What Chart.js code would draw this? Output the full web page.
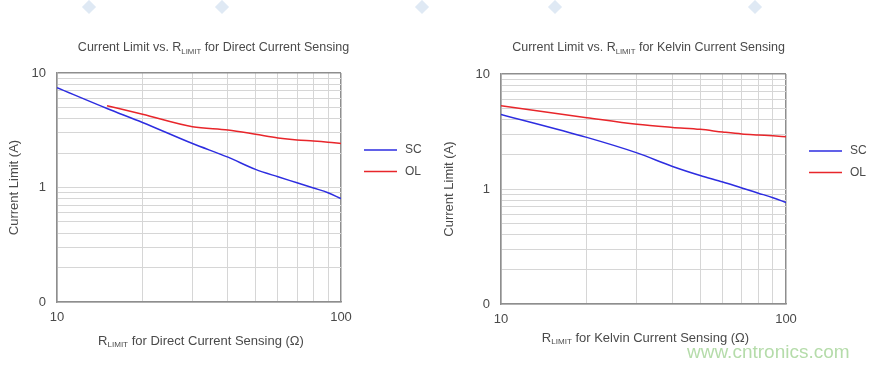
<!DOCTYPE html>
<html><head><meta charset="utf-8">
<script src="https://cdn.jsdelivr.net/npm/chart.js@4.4.1/dist/chart.umd.min.js"></script>
<style>
html,body{margin:0;padding:0;background:#fff;width:870px;height:369px;overflow:hidden;position:relative;font-family:"Liberation Sans",Arial,sans-serif}
.box{position:absolute;top:0;width:435px;height:369px}
#b1{left:0}#b2{left:435px}
.dia{position:absolute;top:2px;width:10px;height:10px;background:#dfe9f4;transform:rotate(45deg)}
#wm{position:absolute;left:687px;top:341px;font-size:19px;color:#b5dcaa;z-index:5;white-space:nowrap}
</style></head>
<body>
<div class="dia" style="left:84px"></div>
<div class="dia" style="left:217px"></div>
<div class="dia" style="left:417px"></div>
<div class="dia" style="left:550px"></div>
<div class="dia" style="left:750px"></div>
<div class="box" id="b1"><canvas id="c1" width="435" height="369"></canvas></div>
<div class="box" id="b2"><canvas id="c2" width="435" height="369"></canvas></div>
<div id="wm">www.cntronics.com</div>
<script>
// ---- data ----
const directScR  = [10, 15, 20, 30, 40, 50, 60, 70, 80, 90, 100];
const directScI  = [7.45, 4.9, 3.70, 2.42, 1.84, 1.44, 1.24, 1.10, 0.99, 0.90, 0.80];
const directOlR  = [15, 20, 30, 40, 50, 60, 70, 80, 90, 100];
const directOlI  = [5.17, 4.37, 3.40, 3.18, 2.92, 2.71, 2.60, 2.55, 2.49, 2.42];
const kelvinScR  = [10, 20, 30, 40, 50, 60, 70, 80, 90, 100];
const kelvinScI  = [4.45, 2.81, 2.06, 1.57, 1.31, 1.15, 1.02, 0.92, 0.84, 0.764];
const kelvinOlR  = [10, 20, 30, 40, 50, 60, 70, 80, 90, 100];
const kelvinOlI  = [5.30, 4.17, 3.65, 3.43, 3.30, 3.13, 3.01, 2.95, 2.90, 2.85];
const seriesNames = ['SC', 'OL'];
const xGridValues = [10, 20, 30, 40, 50, 60, 70, 80, 90, 100];
const yGridValues = [0.1, 0.2, 0.3, 0.4, 0.5, 0.6, 0.7, 0.8, 0.9, 1, 2, 3, 4, 5, 6, 7, 8, 9, 10];
const yTickLabels = {'0.1': '0', '1': '1', '10': '10'};
const xTickLabels = {'10': '10', '100': '100'};
const titleDirect = ['Current Limit vs. R', 'LIMIT', ' for Direct Current Sensing'];
const titleKelvin = ['Current Limit vs. R', 'LIMIT', ' for Kelvin Current Sensing'];
const xTitleDirect = ['R', 'LIMIT', ' for Direct Current Sensing (\u03A9)'];
const xTitleKelvin = ['R', 'LIMIT', ' for Kelvin Current Sensing (\u03A9)'];
const yTitle = 'Current Limit (A)';

const FONT = '"Liberation Sans", Arial, sans-serif';
const TXT = '#4a4a4a';
const GRID = '#d6d6d6';
const BORDER = '#8e8e8e';
const BLUE = '#2d2de0';
const RED = '#e8262b';

function pts(xs, ys) { return xs.map((x, i) => ({x: x, y: ys[i]})); }
function lookup(map, v) {
  for (const k in map) { if (Math.abs(parseFloat(k) - v) < 1e-6 * Math.max(1, v)) return map[k]; }
  return '';
}
function richText(ctx, parts, cx, cy, size) {
  const sub = size * 0.62;
  let w = 0;
  parts.forEach((p, i) => { ctx.font = (i === 1 ? sub : size) + 'px ' + FONT; w += ctx.measureText(p).width; });
  let x = cx - w / 2;
  ctx.textBaseline = 'middle'; ctx.textAlign = 'left'; ctx.fillStyle = TXT;
  parts.forEach((p, i) => {
    const s = i === 1 ? sub : size;
    ctx.font = s + 'px ' + FONT;
    ctx.fillText(p, x, i === 1 ? cy + size * 0.28 : cy);
    x += ctx.measureText(p).width;
  });
}

function makeChart(id, scR, scI, olR, olI, title, xTitle, pad, yW, titleY, xTitleY) {
  const decor = {
    id: 'decor',
    afterDraw(chart) {
      const ctx = chart.ctx, a = chart.chartArea;
      ctx.save();
      richText(ctx, title, chart.width / 2 - 4, titleY, 12.5);
      richText(ctx, xTitle, (a.left + a.right) / 2 + 2, xTitleY, 13);
      chart.data.datasets.forEach((ds, i) => {
        const y = a.top + 77 + i * 21.5;
        ctx.strokeStyle = ds.borderColor; ctx.lineWidth = 1.6;
        ctx.beginPath(); ctx.moveTo(a.right + 23, y); ctx.lineTo(a.right + 56, y); ctx.stroke();
        ctx.fillStyle = TXT; ctx.font = '12px ' + FONT; ctx.textAlign = 'left'; ctx.textBaseline = 'middle';
        ctx.fillText(ds.label, a.right + 64, y);
      });
      ctx.restore();
    }
  };
  const isVal = (c, v) => c.tick && Math.abs(c.tick.value - v) < 1e-6;
  return new Chart(document.getElementById(id), {
    type: 'line',
    data: {
      datasets: [
        {label: seriesNames[0], data: pts(scR, scI), borderColor: BLUE, backgroundColor: BLUE, borderWidth: 1.5, pointRadius: 0, cubicInterpolationMode: 'monotone', fill: false},
        {label: seriesNames[1], data: pts(olR, olI), borderColor: RED, backgroundColor: RED, borderWidth: 1.5, pointRadius: 0, cubicInterpolationMode: 'monotone', fill: false}
      ]
    },
    options: {
      responsive: false, animation: false, events: [],
      layout: {padding: pad},
      plugins: {legend: {display: false}, title: {display: false}, tooltip: {enabled: false}},
      scales: {
        x: {
          type: 'logarithmic', min: 10, max: 100,
          afterBuildTicks: s => { s.ticks = xGridValues.map(v => ({value: v})); },
          afterFit: s => { s.height = 67; },
          grid: {drawTicks: false, color: c => isVal(c, 100) ? BORDER : GRID, lineWidth: c => isVal(c, 100) ? 1.5 : 1},
          border: {color: BORDER, width: 1.5},
          ticks: {autoSkip: false, maxRotation: 0, padding: 8, color: TXT, font: {family: FONT, size: 13},
                  callback: v => lookup(xTickLabels, v)}
        },
        y: {
          type: 'logarithmic', min: 0.1, max: 10,
          afterBuildTicks: s => { s.ticks = yGridValues.map(v => ({value: v})); },
          afterFit: s => { s.width = yW; },
          grid: {drawTicks: false, color: c => isVal(c, 10) ? BORDER : GRID, lineWidth: c => isVal(c, 10) ? 1.5 : 1},
          border: {color: BORDER, width: 1.5},
          title: {display: true, text: yTitle, color: TXT, font: {family: FONT, size: 13}, padding: {top: 7, bottom: 0}},
          ticks: {autoSkip: false, padding: 11, color: TXT, font: {family: FONT, size: 13},
                  callback: v => lookup(yTickLabels, v)}
        }
      }
    },
    plugins: [decor]
  });
}

makeChart('c1', directScR, directScI, directOlR, directOlI, titleDirect, xTitleDirect,
          {left: 0, top: 73, right: 94, bottom: 0}, 57, 48, 341);
makeChart('c2', kelvinScR, kelvinScI, kelvinOlR, kelvinOlI, titleKelvin, xTitleKelvin,
          {left: 0, top: 74, right: 84, bottom: -2}, 66, 48, 338);
</script>
</body></html>
